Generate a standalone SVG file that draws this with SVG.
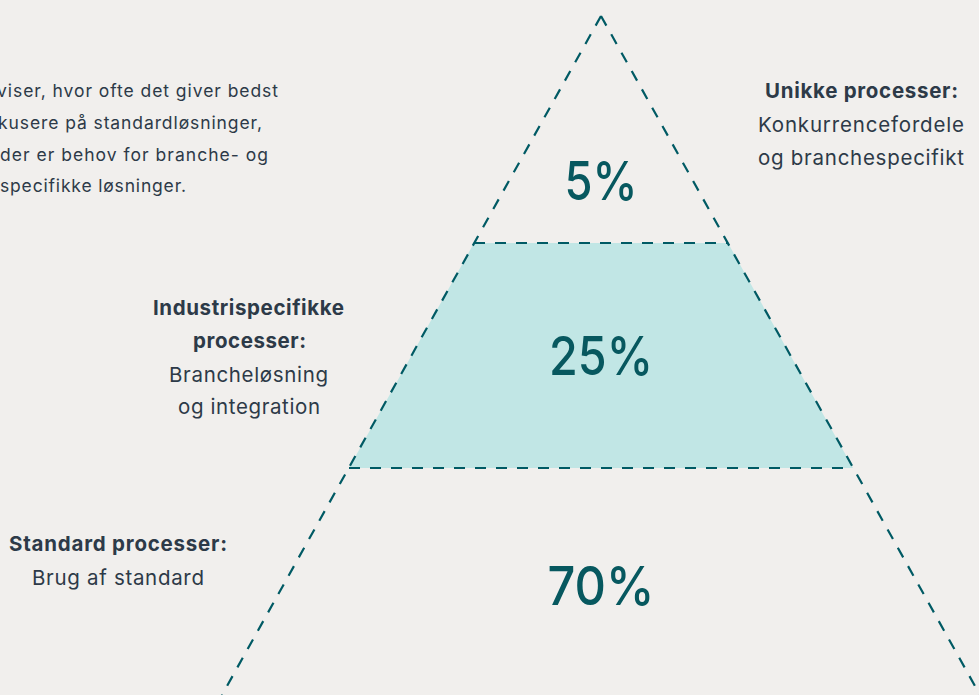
<svg xmlns="http://www.w3.org/2000/svg" width="979" height="695" viewBox="0 0 979 695">
<style>
.t{font-family:Inter,"Noto Sans","Liberation Sans",sans-serif;fill:#2d3a48;font-size:20.5px;text-anchor:middle}
.b{font-weight:700}
.p{font-family:Inter,"Noto Sans","Liberation Sans",sans-serif;fill:#2d3a48;font-size:17.5px}
.pct{font-family:Inter,"Noto Sans","Liberation Sans",sans-serif;fill:#07585f;font-size:54px;font-weight:500;text-anchor:middle}
.d{stroke:#005a64;stroke-width:2.2;stroke-dasharray:11 10;fill:none}
</style>
<rect width="979" height="695" fill="#f1efed"/>
<g id="band-middle"><polygon points="474,243 728,243 853,468 349,468" fill="#c1e6e5"/></g>
<g id="connectors">
<line class="d" x1="601" y1="16" x2="222" y2="695"/>
<line class="d" x1="601" y1="16" x2="980" y2="695"/>
<line class="d" x1="474" y1="243" x2="728" y2="243"/>
<line class="d" x1="349" y1="468" x2="853" y2="468"/>
</g>
<g id="intro">
<text class="p" x="-3" y="97" textLength="281">viser, hvor ofte det giver bedst</text>
<text class="p" x="-2" y="129" textLength="264">kusere på standardløsninger,</text>
<text class="p" x="0" y="161" textLength="268">der er behov for branche- og</text>
<text class="p" x="0" y="192" textLength="186">specifikke løsninger.</text>
</g>
<g id="top"><text class="pct" x="601" y="200" textLength="73" lengthAdjust="spacingAndGlyphs">5%</text></g>
<g id="middle"><text class="pct" x="601" y="375" textLength="104" lengthAdjust="spacingAndGlyphs">25%</text></g>
<g id="bottom"><text class="pct" x="601" y="605" textLength="107" lengthAdjust="spacingAndGlyphs">70%</text></g>
<g id="label-unikke">
<text class="t b" x="861.5" y="97.5" textLength="193">Unikke processer:</text>
<text class="t" x="861" y="132" textLength="206">Konkurrencefordele</text>
<text class="t" x="861" y="165" textLength="206">og branchespecifikt</text>
</g>
<g id="label-industri">
<text class="t b" x="248.5" y="315" textLength="191">Industrispecifikke</text>
<text class="t b" x="249.5" y="348" textLength="113">processer:</text>
<text class="t" x="248.5" y="382" textLength="159">Brancheløsning</text>
<text class="t" x="249" y="414" textLength="142">og integration</text>
</g>
<g id="label-standard">
<text class="t b" x="118" y="551" textLength="218">Standard processer:</text>
<text class="t" x="118" y="585" textLength="172">Brug af standard</text>
</g>
</svg>
